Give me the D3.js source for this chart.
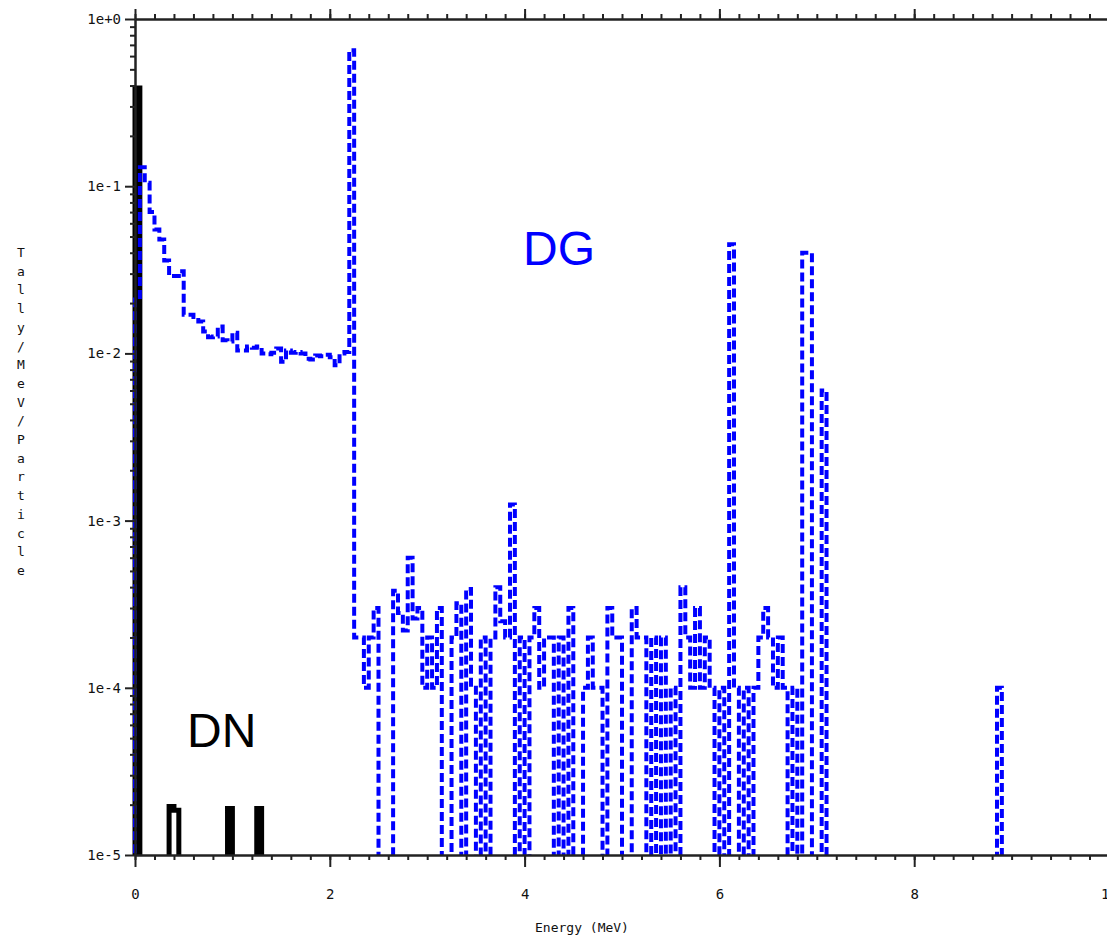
<!DOCTYPE html>
<html>
<head>
<meta charset="utf-8">
<script src="https://cdn.jsdelivr.net/npm/d3@7"></script>
<style>
  html, body { margin: 0; padding: 0; background: #fff; }
  svg { display: block; }
  .tick text { font-family: "DejaVu Sans Mono", "Liberation Mono", monospace; font-size: 14px; fill: #111; }
</style>
</head>
<body>
<svg id="chart" width="1107" height="938"></svg>
<script>
// Energy bins: 0.05 MeV wide, 0 – 10 MeV
const binWidth = 0.05;

// Delayed gamma tally per bin (Tally/MeV/Particle), one row per MeV
const dgTally = [
  0.021, 0.13, 0.105, 0.07, 0.055, 0.048, 0.036, 0.029, 0.029, 0.031, 0.017, 0.017, 0.0165, 0.0155, 0.0135, 0.0125, 0.0126, 0.0145, 0.012, 0.0118,
  0.0133, 0.0104, 0.0104, 0.0110, 0.0108, 0.0110, 0.0100, 0.0099, 0.0101, 0.0107, 0.0089, 0.0104, 0.0101, 0.0102, 0.0100, 0.0093, 0.0092, 0.0097, 0.0096, 0.0098,
  0.0095, 0.0085, 0.0100, 0.0102, 0.65, 2e-4, 2e-4, 1e-4, 2e-4, 3e-4, 0, 0, 0, 3.8e-4, 2.8e-4, 2.2e-4, 6e-4, 2.6e-4, 3e-4, 1e-4,
  2e-4, 1e-4, 3e-4, 0, 0, 2e-4, 3.2e-4, 0, 3.9e-4, 1e-4, 0, 2e-4, 0, 2e-4, 4e-4, 2.5e-4, 2e-4, 1.25e-3, 0, 2e-4,
  0, 2e-4, 3e-4, 1e-4, 2e-4, 2e-4, 0, 2e-4, 0, 3e-4, 0, 0, 1e-4, 2e-4, 1e-4, 1e-4, 0, 3e-4, 2e-4, 2e-4,
  0, 0, 3e-4, 2e-4, 2e-4, 0, 2e-4, 0, 2e-4, 0, 1e-4, 0, 4e-4, 2e-4, 1e-4, 3e-4, 1e-4, 2e-4, 1e-4, 0,
  1e-4, 0, 0.045, 1e-4, 0, 1e-4, 0, 1e-4, 2e-4, 3e-4, 2e-4, 1e-4, 2e-4, 1e-4, 0, 1e-4, 0, 0.04, 0.04, 0,
  0, 0.006, 0, 0, 0, 0, 0, 0, 0, 0, 0, 0, 0, 0, 0, 0, 0, 0, 0, 0,
  0, 0, 0, 0, 0, 0, 0, 0, 0, 0, 0, 0, 0, 0, 0, 0, 0, 1e-4, 0, 0,
  0, 0, 0, 0, 0, 0, 0, 0, 0, 0, 0, 0, 0, 0, 0, 0, 0, 0, 0, 0
];

// Delayed neutron tally: only the non-empty bins [bin start (MeV), value]
const dnBins = [
  [0.00, 0.386],
  [0.35, 1.95e-5],
  [0.40, 1.85e-5],
  [0.95, 1.9e-5],
  [1.25, 1.9e-5]
];

// Axis ticks and labels
const xMajorTicks = [0, 2, 4, 6, 8, 10];
const xMinorStep = 0.2;
const yDecades = [1, 1e-1, 1e-2, 1e-3, 1e-4, 1e-5];
const yTickLabels = ["1e+0", "1e-1", "1e-2", "1e-3", "1e-4", "1e-5"];
const yTitle = "Tally/MeV/Particle";
const xTitle = "Energy (MeV)";
const seriesLabels = ["DG", "DN"];

const svg = d3.select("#chart");
const plotLeft = 135, plotRight = 1109, plotTop = 19, plotBottom = 855;

const x = d3.scaleLinear().domain([0, 10]).range([plotLeft, plotRight]);
const y = d3.scaleLog().domain([1e-5, 1]).range([plotBottom, plotTop]);

// Empty bins fall below the axis floor and are clipped away
const emptyLevel = 1e-6;

// Histogram outline: rise from the floor at 0, one step per bin
function stepPoints(values) {
  const pts = [[0, emptyLevel]];
  values.forEach((v, i) => pts.push([i * binWidth, v > 0 ? v : emptyLevel]));
  pts.push([values.length * binWidth, pts[pts.length - 1][1]]);
  return pts;
}

const nBins = dgTally.length;
const dnTally = new Array(nBins).fill(0);
dnBins.forEach(([e, v]) => { dnTally[Math.round(e / binWidth)] = v; });

svg.append("defs").append("clipPath").attr("id", "plot-clip")
  .append("rect").attr("x", plotLeft - 5).attr("y", 0)
  .attr("width", plotRight - plotLeft + 10).attr("height", plotBottom);

const line = d3.line()
  .x(d => x(d[0]))
  .y(d => y(d[1]))
  .curve(d3.curveStepAfter);

const plot = svg.append("g").attr("clip-path", "url(#plot-clip)");

plot.append("path")
  .datum(stepPoints(dnTally))
  .attr("d", line)
  .attr("fill", "none")
  .attr("stroke", "#000")
  .attr("stroke-width", 5);

plot.append("path")
  .datum(stepPoints(dgTally))
  .attr("d", line)
  .attr("fill", "none")
  .attr("stroke", "#0000ff")
  .attr("stroke-width", 4)
  .attr("stroke-dasharray", "9,4");

// Axes
const xMinor = d3.range(0, 10 + 1e-9, xMinorStep).map(v => +v.toFixed(2));
const yMinor = [];
[-5, -4, -3, -2, -1].forEach(p => { for (let m = 2; m <= 9; m++) yMinor.push(m * Math.pow(10, p)); });

function styleAxis(g) {
  g.selectAll(".domain").attr("stroke", "#222").attr("stroke-width", 2);
  g.selectAll(".tick line").attr("stroke", "#222").attr("stroke-width", 2);
}

svg.append("g").attr("transform", `translate(0,${plotBottom})`)
  .call(d3.axisBottom(x).tickValues(xMinor).tickSize(5).tickSizeOuter(0).tickFormat(""))
  .call(styleAxis);
svg.append("g").attr("transform", `translate(0,${plotBottom})`)
  .call(d3.axisBottom(x).tickValues(xMajorTicks).tickSize(12).tickSizeOuter(0).tickPadding(22).tickFormat(d3.format("d")))
  .call(styleAxis);

svg.append("g").attr("transform", `translate(0,${plotTop})`)
  .call(d3.axisTop(x).tickValues(xMinor).tickSize(5).tickSizeOuter(0).tickFormat(""))
  .call(styleAxis);
svg.append("g").attr("transform", `translate(0,${plotTop})`)
  .call(d3.axisTop(x).tickValues(xMajorTicks).tickSize(10).tickSizeOuter(0).tickFormat(""))
  .call(styleAxis);

svg.append("g").attr("transform", `translate(${plotLeft},0)`)
  .call(d3.axisLeft(y).tickValues(yMinor).tickSize(5).tickSizeOuter(0).tickFormat(""))
  .call(styleAxis);
svg.append("g").attr("transform", `translate(${plotLeft},0)`)
  .call(d3.axisLeft(y).tickValues(yDecades).tickSize(10).tickSizeOuter(0).tickPadding(4)
    .tickFormat((d, i) => yTickLabels[i]))
  .call(styleAxis);

// Axis titles
svg.append("text")
  .attr("x", 582).attr("y", 932)
  .attr("text-anchor", "middle")
  .attr("font-family", "DejaVu Sans Mono, Liberation Mono, monospace")
  .attr("font-size", 13).attr("fill", "#111")
  .text(xTitle);

svg.append("g").selectAll("text")
  .data(yTitle.split(""))
  .join("text")
  .attr("x", 21)
  .attr("y", (d, i) => 257 + i * 18.7)
  .attr("text-anchor", "middle")
  .attr("font-family", "DejaVu Sans Mono, Liberation Mono, monospace")
  .attr("font-size", 13).attr("fill", "#111")
  .text(d => d);

// Series labels
svg.append("text")
  .attr("x", 523).attr("y", 265)
  .attr("font-family", "Liberation Sans, Arial, sans-serif")
  .attr("font-size", 48).attr("fill", "#0000ff")
  .text(seriesLabels[0]);

svg.append("text")
  .attr("x", 187).attr("y", 747)
  .attr("font-family", "Liberation Sans, Arial, sans-serif")
  .attr("font-size", 48).attr("fill", "#000")
  .text(seriesLabels[1]);
</script>
</body>
</html>
